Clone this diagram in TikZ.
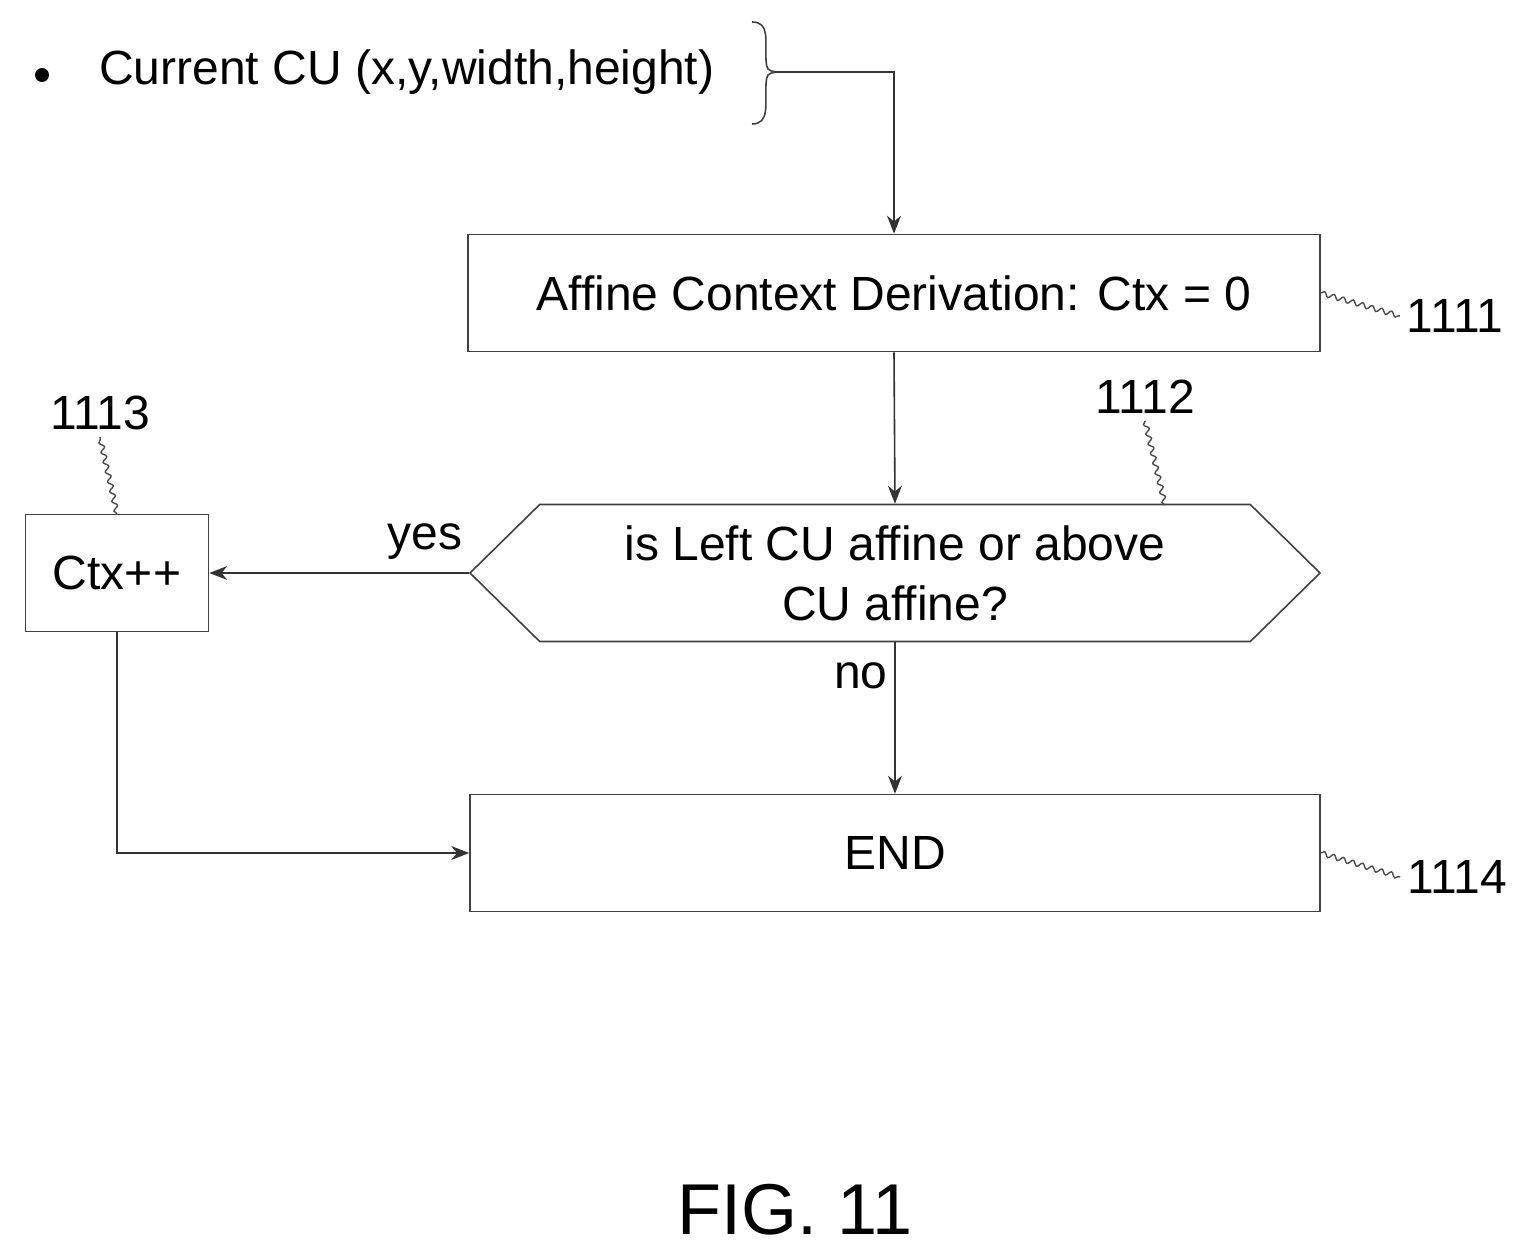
\documentclass[tikz,border=0pt]{standalone}
\usepackage{fontspec}
\setmainfont{Liberation Sans}
\usetikzlibrary{positioning,shapes.symbols,arrows.meta,decorations.pathmorphing}
\tikzset{
  stage/.style={draw=black!75,line width=0.8pt,inner sep=0pt,font=\fontsize{24}{30}\selectfont},
  flow/.style={draw=black!80,line width=0.8pt,-{Stealth[length=9pt,width=7pt]}},
  leader/.style={draw=black!70,line width=0.7pt,decorate,decoration={snake,amplitude=1.2pt,segment length=5pt}},
  refno/.style={font=\fontsize{24}{28}\selectfont}
}
\begin{document}
\begin{tikzpicture}[x=0.5pt,y=-0.5pt]
  \useasboundingbox (0,0) rectangle (1528,1258);

  % input
  \fill (42,75) circle (7);
  \node[refno,anchor=west] (cu) at (92,72) {Current CU (x,y,width,height)};
  \draw[black!75,line width=0.8pt] (752,22) .. controls (770,22) and (765,40) .. (766,60)
    .. controls (767,70) .. (776,72) .. controls (767,74) .. (766,84)
    .. controls (765,104) and (770,124) .. (752,124);
  \coordinate (brace) at (776,72);

  % steps
  \node[stage,minimum width=426pt,minimum height=58.5pt] (ctx) at (894,293) {Affine Context Derivation: Ctx = 0};
  \node[stage,signal,signal to=east and west,signal pointer angle=89,minimum width=425pt,minimum height=68.5pt,align=center] (test) at (895,573) {is Left CU affine or above\\CU affine?};
  \node[stage,minimum width=91.5pt,minimum height=58.5pt] (inc) at (117,573) {Ctx++};
  \node[stage,minimum width=425pt,minimum height=58.5pt] (end) at (895,853) {END};

  % connectors
  \draw[flow] (brace) -| (ctx.north);
  \draw[flow] (ctx.south) -- (test.north);
  \draw[flow] (test.west) -- node[refno,above,pos=0.17,yshift=3pt] {yes} (inc.east);
  \draw[flow] (test.south) -- node[refno,left,pos=0.22] {no} (end.north);
  \draw[flow] (inc.south) |- (end.west);

  % reference numbers
  \node[refno] (n1111) at (1455,316) {1111};
  \node[refno] (n1112) at (1145,397) {1112};
  \node[refno] (n1113) at (100,413) {1113};
  \node[refno] (n1114) at (1457,877) {1114};
  \draw[leader] (ctx.east) -- (n1111.west);
  \draw[leader] (1165,505) -- (n1112.south);
  \draw[leader] (inc.north) -- (n1113.south);
  \draw[leader] (end.east) -- (n1114.west);

  \node[font=\fontsize{36}{42}\selectfont] (fig) at (795,1210) {FIG. 11};
\end{tikzpicture}
\end{document}
